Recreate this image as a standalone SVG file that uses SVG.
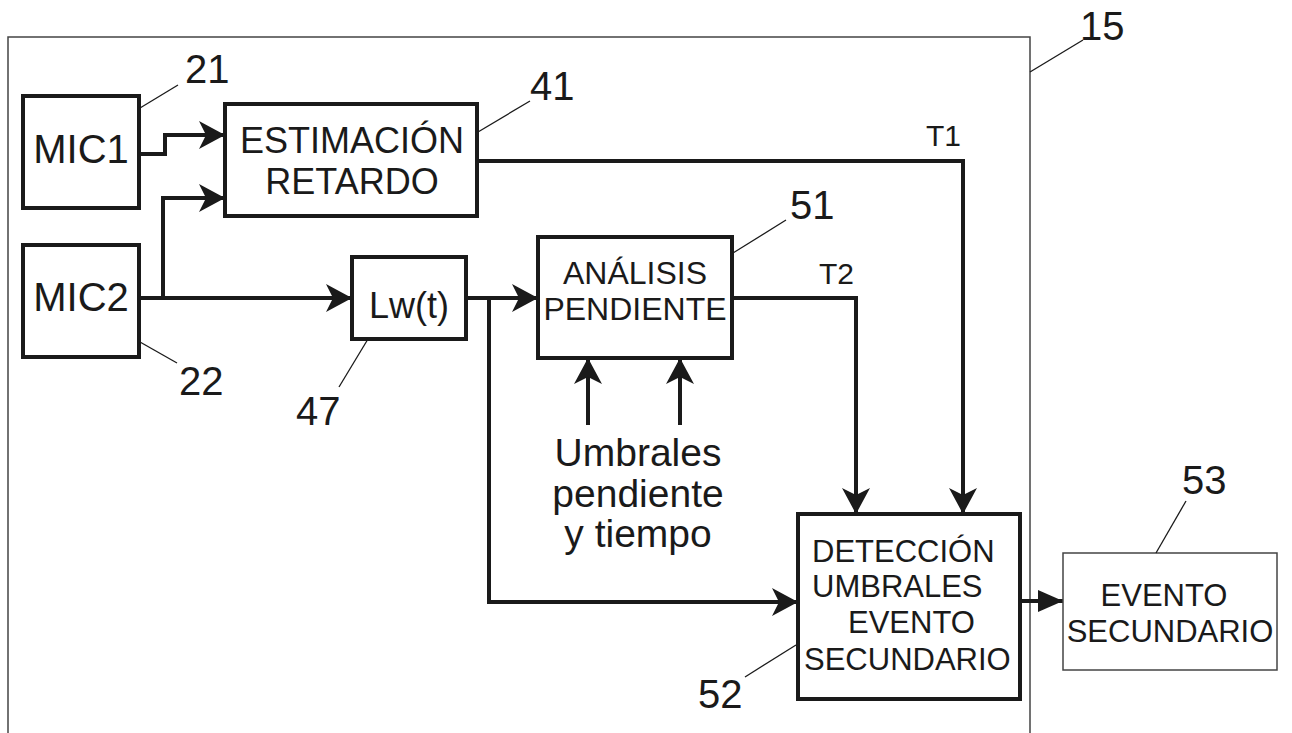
<svg xmlns="http://www.w3.org/2000/svg" width="1292" height="733" viewBox="0 0 1292 733">
<style>
.box{fill:#fff;stroke:#1a1a1a;stroke-width:4}
.thinbox{fill:#fff;stroke:#444;stroke-width:1.5}
.frame{fill:none;stroke:#444;stroke-width:1.5}
.wire{fill:none;stroke:#1a1a1a;stroke-width:4}
.lead{fill:none;stroke:#1a1a1a;stroke-width:1.3}
text{font-family:"Liberation Sans",Arial,sans-serif;fill:#1a1a1a}
.num{font-size:40px}
.t{font-size:30px}
</style>
<defs>
<marker id="ah" markerUnits="userSpaceOnUse" markerWidth="32" markerHeight="32" viewBox="-28 -16 32 32" refX="0" refY="0" orient="auto">
<path d="M0,0 L-26,-14 L-19,0 L-26,14 Z" fill="#1a1a1a"/>
</marker>
<marker id="tri" markerUnits="userSpaceOnUse" markerWidth="32" markerHeight="32" viewBox="-28 -16 32 32" refX="0" refY="0" orient="auto">
<path d="M0,0 L-25,-11 L-25,11 Z" fill="#1a1a1a"/>
</marker>
</defs>

<g id="frame15">
<path class="frame" d="M8,740 V37 H1030 V740"/>
<line class="lead" x1="1030" y1="72" x2="1083" y2="40"/>
<text class="num" x="1080" y="40">15</text>
</g>

<g id="connectors">
<path class="wire" d="M139,154 H165 V135 H225" marker-end="url(#ah)"/>
<path class="wire" d="M163,298 V198 H225" marker-end="url(#ah)"/>
<path class="wire" d="M139,298 H352" marker-end="url(#ah)"/>
<path class="wire" d="M466,298 H538" marker-end="url(#ah)"/>
<path class="wire" d="M489,298 V602 H798" marker-end="url(#ah)"/>
<path class="wire" d="M477,161 H963 V514" marker-end="url(#ah)"/>
<path class="wire" d="M732,298 H856 V514" marker-end="url(#ah)"/>
<path class="wire" d="M588,425 V358" marker-end="url(#ah)"/>
<path class="wire" d="M680,425 V358" marker-end="url(#ah)"/>
<path class="wire" d="M1020,601 H1063" marker-end="url(#tri)"/>
<text class="t" x="926" y="146">T1</text>
<text class="t" x="819" y="284">T2</text>
</g>

<g id="mic1">
<rect class="box" x="23" y="96" width="116" height="112"/>
<text x="81" y="163" font-size="40" text-anchor="middle">MIC1</text>
<line class="lead" x1="140" y1="108" x2="178" y2="85"/>
<text class="num" x="185" y="83">21</text>
</g>

<g id="mic2">
<rect class="box" x="23" y="245" width="116" height="112"/>
<text x="81" y="311" font-size="40" text-anchor="middle">MIC2</text>
<line class="lead" x1="140" y1="342" x2="177" y2="363"/>
<text class="num" x="179" y="395">22</text>
</g>

<g id="estimacion">
<rect class="box" x="225" y="104" width="252" height="112"/>
<text x="352" y="153" font-size="36" text-anchor="middle">ESTIMACIÓN</text>
<text x="352" y="194" font-size="36" text-anchor="middle">RETARDO</text>
<line class="lead" x1="478" y1="132" x2="530" y2="101"/>
<text class="num" x="530" y="100">41</text>
</g>

<g id="lw">
<rect class="box" x="352" y="257" width="114" height="82"/>
<text x="409" y="318" font-size="36" text-anchor="middle">Lw(t)</text>
<line class="lead" x1="368" y1="339" x2="339" y2="387"/>
<text class="num" x="296" y="425">47</text>
</g>

<g id="analisis">
<rect class="box" x="538" y="237" width="194" height="121"/>
<text x="635" y="284" font-size="32" text-anchor="middle">ANÁLISIS</text>
<text x="635" y="320" font-size="32" text-anchor="middle">PENDIENTE</text>
<line class="lead" x1="733" y1="253" x2="786" y2="220"/>
<text class="num" x="790" y="219">51</text>
</g>

<g id="umbrales">
<text x="638" y="466" font-size="39" text-anchor="middle">Umbrales</text>
<text x="638" y="507" font-size="39" text-anchor="middle">pendiente</text>
<text x="638" y="547" font-size="39" text-anchor="middle">y tiempo</text>
</g>

<g id="deteccion">
<rect class="box" x="798" y="514" width="222" height="185"/>
<text x="812" y="562" font-size="31">DETECCIÓN</text>
<text x="812" y="597" font-size="31">UMBRALES</text>
<text x="848" y="633" font-size="31">EVENTO</text>
<text x="804" y="670" font-size="31">SECUNDARIO</text>
<line class="lead" x1="796" y1="645" x2="745" y2="677"/>
<text class="num" x="698" y="708">52</text>
</g>

<g id="evento">
<rect class="thinbox" x="1063" y="553" width="214" height="117"/>
<text x="1164" y="606" font-size="31" text-anchor="middle">EVENTO</text>
<text x="1170" y="642" font-size="31" text-anchor="middle">SECUNDARIO</text>
<line class="lead" x1="1156" y1="553" x2="1186" y2="501"/>
<text class="num" x="1182" y="494">53</text>
</g>
</svg>
